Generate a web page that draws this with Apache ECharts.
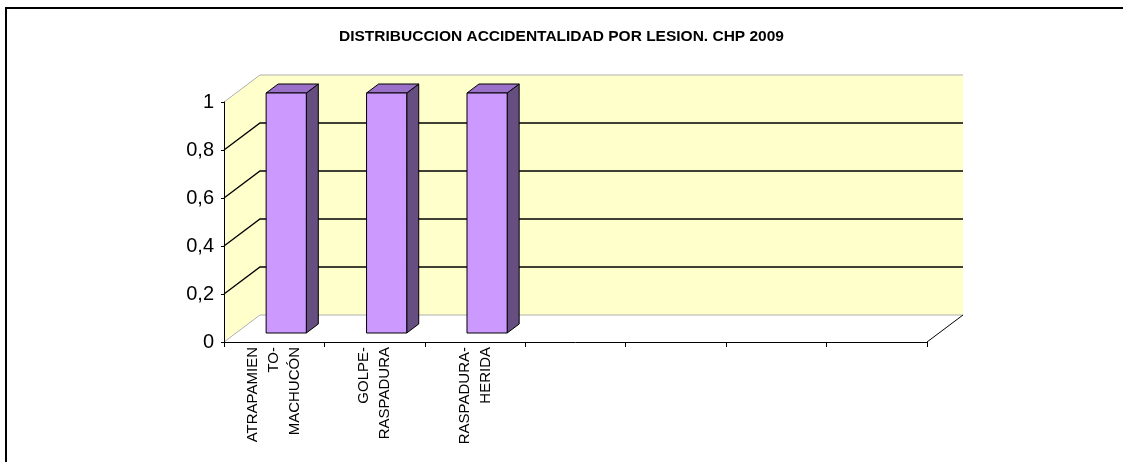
<!DOCTYPE html>
<html>
<head>
<meta charset="utf-8">
<script src="https://cdn.jsdelivr.net/npm/echarts@6/dist/echarts.min.js"></script>
<style>
  html, body { margin: 0; padding: 0; background: #fff; }
  #chart { width: 1123px; height: 462px; }
</style>
</head>
<body>
<div id="chart"></div>
<script>
  // datos
  var categories = ['ATRAPAMIEN\nTO-\nMACHUCÓN', 'GOLPE-\nRASPADURA', 'RASPADURA-\nHERIDA', '', '', '', ''];
  var values = [1, 1, 1];
  var gridValues = [0, 0.2, 0.4, 0.6, 0.8, 1];

  // profundidad del efecto 3D (px)
  var depthX = 36, depthY = 27;

  var myChart = echarts.init(document.getElementById('chart'));

  function wallsItem(params, api) {
    var cs = params.coordSys;
    var x0 = cs.x, x1 = cs.x + cs.width;
    var yb = api.coord([0, 0])[1];
    var yt = api.coord([0, 1])[1];
    var children = [];
    // pared lateral
    children.push({
      type: 'polygon',
      shape: { points: [[x0, yb], [x0, yt], [x0 + depthX, yt - depthY], [x0 + depthX, yb - depthY]] },
      style: { fill: '#FFFFCC', stroke: null }
    });
    // pared del fondo
    children.push({
      type: 'rect',
      shape: { x: x0 + depthX, y: yt - depthY, width: cs.width, height: yb - yt },
      style: { fill: '#FFFFCC', stroke: null }
    });
    // piso
    children.push({
      type: 'polygon',
      shape: { points: [[x0, yb], [x1, yb], [x1 + depthX, yb - depthY], [x0 + depthX, yb - depthY]] },
      style: { fill: '#FFFFFF', stroke: null }
    });
    gridValues.forEach(function (v) {
      var y = api.coord([0, v])[1];
      var edge = (v === 0 || v === 1);
      children.push({
        type: 'polyline',
        shape: { points: [[x0, y], [x0 + depthX, y - depthY], [x1 + depthX, y - depthY]] },
        style: { stroke: edge ? '#B0B0B0' : '#000', lineWidth: edge ? 1 : 1.3, fill: null }
      });
    });
    // borde derecho del piso
    children.push({
      type: 'line',
      shape: { x1: x1, y1: yb, x2: x1 + depthX, y2: yb - depthY },
      style: { stroke: '#000', lineWidth: 1 }
    });
    return { type: 'group', children: children };
  }

  function barItem(params, api) {
    var top = api.coord([api.value(0), api.value(1)]);
    var base = api.coord([api.value(0), 0]);
    var band = api.size([1, 0])[0];
    var w = band * 0.4;
    var ox = depthX / 3, oy = depthY / 3;
    var l = top[0] - w / 2 + ox, r = l + w;
    var t = top[1] - oy, b = base[1] - oy;
    var edge = { stroke: '#000', lineWidth: 1 };
    return {
      type: 'group',
      children: [
        {
          type: 'polygon',
          shape: { points: [[r, t], [r + ox, t - oy], [r + ox, b - oy], [r, b]] },
          style: Object.assign({ fill: '#664E80' }, edge)
        },
        {
          type: 'polygon',
          shape: { points: [[l, t], [l + ox, t - oy], [r + ox, t - oy], [r, t]] },
          style: Object.assign({ fill: '#9B70C9' }, edge)
        },
        {
          type: 'rect',
          shape: { x: l, y: t, width: w, height: b - t },
          style: Object.assign({ fill: '#CC99FF' }, edge)
        }
      ]
    };
  }

  myChart.setOption({
    animation: false,
    title: {
      text: 'DISTRIBUCCION ACCIDENTALIDAD POR LESION. CHP 2009',
      left: 'center',
      top: 24,
      textStyle: { fontFamily: 'Liberation Sans, Arial', fontSize: 15.5, fontWeight: 'bold', color: '#000' }
    },
    grid: { left: 224, top: 102, width: 703, height: 240 },
    xAxis: {
      type: 'category',
      data: categories,
      z: 10,
      axisLine: { lineStyle: { color: '#000', width: 1 } },
      axisTick: { show: true, length: 5, lineStyle: { color: '#000' } },
      axisLabel: {
        interval: 0,
        rotate: 90,
        margin: 5,
        color: '#000',
        fontFamily: 'Liberation Sans, Arial',
        fontSize: 15,
        lineHeight: 21
      }
    },
    yAxis: {
      type: 'value',
      min: 0,
      max: 1,
      interval: 0.2,
      z: 10,
      axisLine: { show: true, lineStyle: { color: '#000', width: 1 } },
      axisTick: { show: true, length: 3, lineStyle: { color: '#000' } },
      splitLine: { show: false },
      axisLabel: {
        margin: 10,
        color: '#000',
        fontFamily: 'Liberation Sans, Arial',
        fontSize: 20,
        formatter: function (v) {
          return (v === 0 || v === 1) ? String(v) : v.toFixed(1).replace('.', ',');
        }
      }
    },
    graphic: [{
      type: 'polyline',
      shape: { points: [[6, 462], [6, 8], [1123, 8]] },
      style: { stroke: '#000', lineWidth: 2, fill: null },
      silent: true
    }],
    series: [
      {
        type: 'custom',
        z: 1,
        renderItem: wallsItem,
        data: [[0, 0]],
        silent: true
      },
      {
        type: 'custom',
        z: 2,
        renderItem: barItem,
        encode: { x: 0, y: 1 },
        data: values.map(function (v, i) { return [i, v]; })
      }
    ]
  });
</script>
</body>
</html>
